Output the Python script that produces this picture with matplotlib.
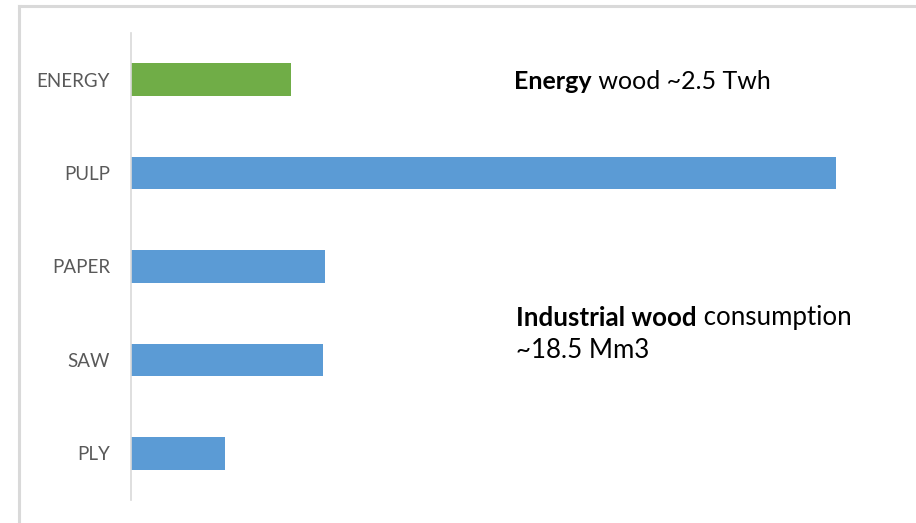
import matplotlib
matplotlib.use('Agg')
import matplotlib.pyplot as plt
from matplotlib.lines import Line2D

categories = ['ENERGY', 'PULP', 'PAPER', 'SAW', 'PLY']
values = [2.5, 11.0, 3.03, 3.0, 1.47]
bar_colors = ['#70AD47', '#5B9BD5', '#5B9BD5', '#5B9BD5', '#5B9BD5']

plt.rcParams['font.family'] = ['Lato', 'DejaVu Sans']

W, H = 916, 523
fig = plt.figure(figsize=(W/100, H/100), dpi=100, facecolor='white')

# axes placed in pixel terms: left 131, right 900, top 33, bottom 500
ax = fig.add_axes([131/W, 1-500/H, (900-131)/W, (500-33)/H])
ypos = list(range(len(categories)))
ax.barh(ypos, values, height=0.35, color=bar_colors)
ax.set_ylim(len(categories)-0.5, -0.5)
ax.set_xlim(0, 12.0)
ax.set_yticks(ypos)
ax.set_yticklabels(categories, fontsize=13.5, color='#595959')
ax.tick_params(axis='y', length=0, pad=15)
ax.set_xticks([])
for s in ['top', 'right', 'bottom']:
    ax.spines[s].set_visible(False)
ax.spines['left'].set_color('#D9D9D9')
ax.spines['left'].set_linewidth(1.2)

# chart border (only top and left visible in the crop)
fig.add_artist(Line2D([19/W, 19/W], [0, 1-6/H], transform=fig.transFigure,
                      color='#D9D9D9', lw=2.2))
fig.add_artist(Line2D([19/W, 1], [1-6/H, 1-6/H], transform=fig.transFigure,
                      color='#D9D9D9', lw=2.2))

def mixed(x, y, bold, rest, size=18):
    t1 = fig.text(x/W, 1-y/H, bold, fontsize=size, fontweight='bold',
                  color='#000000', va='bottom', ha='left')
    ax.annotate(rest, xy=(1, 0), xycoords=t1, va='bottom', ha='left',
                fontsize=size, color='#000000', annotation_clip=False)

mixed(514, 93, 'Energy', ' wood ~2.5 Twh', size=18)
mixed(516, 330, 'Industrial wood', ' consumption', size=18.6)
fig.text(516/W, 1-363/H, '~18.5 Mm3', fontsize=18.6, color='#000000',
         va='bottom', ha='left')

fig.savefig('out.png', dpi=100, facecolor='white')
